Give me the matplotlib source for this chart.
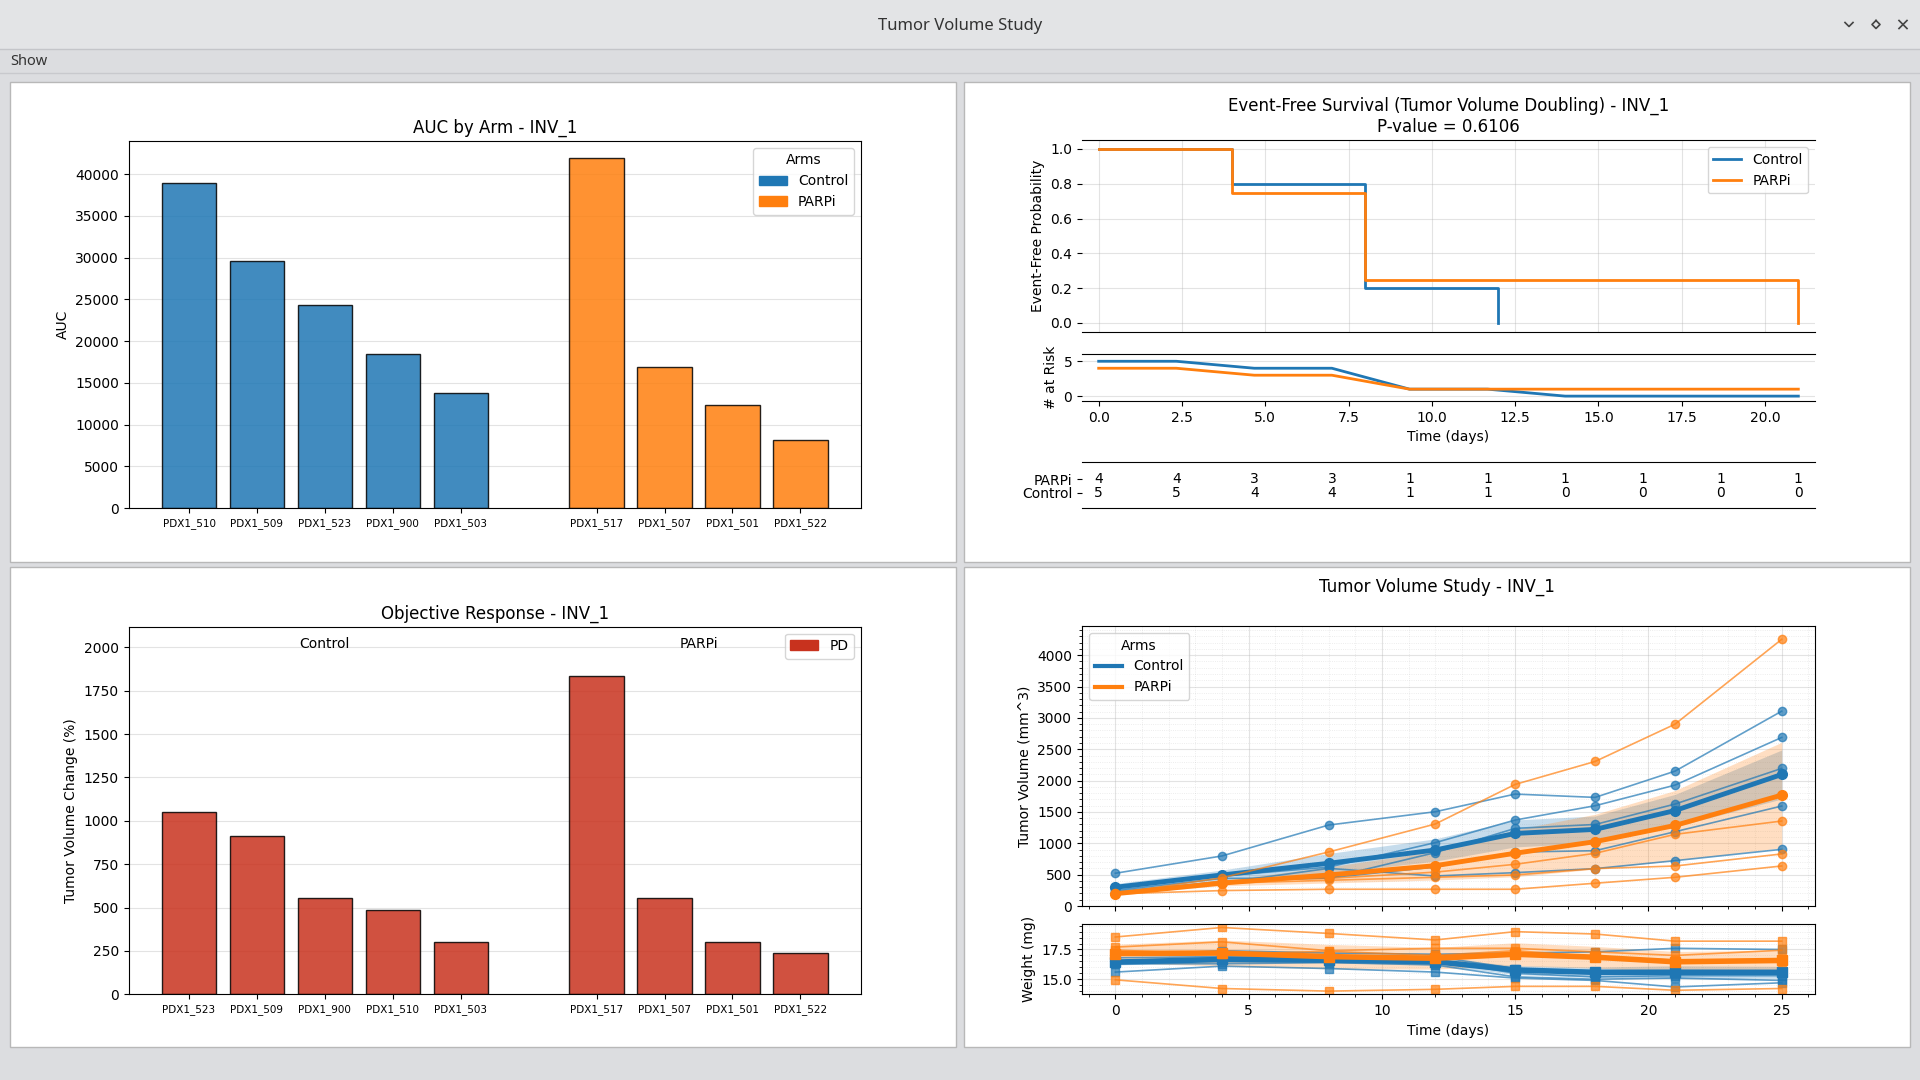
import numpy as np
import matplotlib
matplotlib.use('Agg')
import matplotlib.pyplot as plt
from matplotlib.patches import Rectangle, Patch
from matplotlib.lines import Line2D
from matplotlib.ticker import AutoMinorLocator, MultipleLocator

# ---------------- data ----------------
auc_control_ids = ['PDX1_510', 'PDX1_509', 'PDX1_523', 'PDX1_900', 'PDX1_503']
auc_control = [38950, 29600, 24300, 18450, 13780]
auc_parpi_ids = ['PDX1_517', 'PDX1_507', 'PDX1_501', 'PDX1_522']
auc_parpi = [41900, 16850, 12300, 8200]

orr_control_ids = ['PDX1_523', 'PDX1_509', 'PDX1_900', 'PDX1_510', 'PDX1_503']
orr_control = [1050, 915, 553, 488, 304]
orr_parpi_ids = ['PDX1_517', 'PDX1_507', 'PDX1_501', 'PDX1_522']
orr_parpi = [1835, 558, 304, 238]

km_control_t = [0, 4, 8, 12]
km_control_s = [1.0, 0.8, 0.2, 0.0]
km_parpi_t = [0, 4, 8, 21]
km_parpi_s = [1.0, 0.75, 0.25, 0.0]
risk_times = [0.0, 2.33, 4.67, 7.0, 9.33, 11.67, 14.0, 16.33, 18.67, 21.0]
risk_control = [5, 5, 4, 4, 1, 1, 0, 0, 0, 0]
risk_parpi = [4, 4, 3, 3, 1, 1, 1, 1, 1, 1]
p_value = 0.6106

days = [0, 4, 8, 12, 15, 18, 21, 25]
vol_pdx1_510 = [522, 798, 1291, 1503, 1785, 1732, 2151, 3107]
vol_pdx1_509 = [290, 480, 620, 1010, 1371, 1599, 1928, 2688]
vol_pdx1_523 = [250, 440, 444, 851, 1238, 1300, 1626, 2194]
vol_pdx1_900 = [230, 390, 450, 622, 860, 882, 1185, 1594]
vol_pdx1_503 = [203, 367, 600, 479, 532, 596, 723, 904]
vol_pdx1_517 = [200, 450, 861, 1307, 1939, 2305, 2900, 4253]
vol_pdx1_507 = [195, 400, 440, 540, 665, 840, 1143, 1355]
vol_pdx1_501 = [195, 363, 410, 458, 495, 596, 638, 830]
vol_pdx1_522 = [193, 246, 267, 267, 267, 363, 458, 638]

wt_pdx1_510 = [17.0, 17.4, 17.2, 17.1, 17.2, 17.3, 17.6, 17.5]
wt_pdx1_509 = [16.8, 16.9, 16.9, 16.9, 15.9, 15.5, 15.6, 15.5]
wt_pdx1_523 = [16.5, 16.6, 16.6, 16.6, 15.5, 15.2, 15.3, 15.3]
wt_pdx1_900 = [16.3, 16.3, 16.4, 16.2, 15.2, 15.0, 15.1, 14.9]
wt_pdx1_503 = [15.6, 16.1, 15.9, 15.6, 15.1, 14.9, 14.35, 14.7]
wt_pdx1_517 = [18.55, 19.35, 18.85, 18.3, 19.0, 18.8, 18.2, 18.2]
wt_pdx1_507 = [17.7, 18.14, 17.4, 17.6, 17.6, 17.3, 17.0, 17.44]
wt_pdx1_501 = [17.45, 17.1, 17.35, 17.0, 17.4, 16.9, 16.6, 16.45]
wt_pdx1_522 = [14.95, 14.22, 14.0, 14.15, 14.4, 14.4, 14.07, 14.22]

control_vols = [vol_pdx1_510, vol_pdx1_509, vol_pdx1_523, vol_pdx1_900, vol_pdx1_503]
parpi_vols = [vol_pdx1_517, vol_pdx1_507, vol_pdx1_501, vol_pdx1_522]
control_wts = [wt_pdx1_510, wt_pdx1_509, wt_pdx1_523, wt_pdx1_900, wt_pdx1_503]
parpi_wts = [wt_pdx1_517, wt_pdx1_507, wt_pdx1_501, wt_pdx1_522]

BLUE = '#1f77b4'
ORANGE = '#ff7f0e'
RED = '#c8321e'

# ---------------- figure / window chrome ----------------
W, H = 1920, 1080
fig = plt.figure(figsize=(19.2, 10.8), dpi=100)
fig.patch.set_facecolor('#dcdde0')


def rect(x, y, w, h, fc, ec='none', lw=0):
    fig.add_artist(Rectangle((x / W, 1 - (y + h) / H), w / W, h / H,
                             transform=fig.transFigure, facecolor=fc,
                             edgecolor=ec, linewidth=lw, zorder=0))


def fline(xs, ys, color='#444444', lw=1.2):
    fig.add_artist(Line2D([x / W for x in xs], [1 - y / H for y in ys],
                          transform=fig.transFigure, color=color, lw=lw))


def add_ax(x0, y0, x1, y1):
    return fig.add_axes([x0 / W, 1 - y1 / H, (x1 - x0) / W, (y1 - y0) / H])


rect(0, 0, W, 49, '#e3e4e6')
rect(0, 49, W, 24, '#dcdde0')
fline([0, W], [49, 49], '#c4c5c9', 1)
fline([0, W], [73, 73], '#c8c9cd', 1)
fig.text(960 / W, 1 - 26.5 / H, 'Tumor Volume Study', ha='center', va='center',
         fontsize=12, color='#333333', family=['Noto Sans', 'DejaVu Sans'])
fig.text(10 / W, 1 - 62 / H, 'Show', ha='left', va='center',
         fontsize=10.5, color='#333333', family=['Noto Sans', 'DejaVu Sans'])
# window buttons
fline([1845, 1849, 1853], [22.5, 26.5, 22.5], '#444444', 1.2)
fline([1876, 1880, 1876, 1872, 1876], [20.5, 24.5, 28.5, 24.5, 20.5], '#444444', 1.2)
fline([1899, 1907], [20.5, 28.5], '#444444', 1.2)
fline([1899, 1907], [28.5, 20.5], '#444444', 1.2)

for (px, py) in [(9.5, 82), (963.5, 82), (9.5, 567), (963.5, 567)]:
    rect(px, py, 946.5, 480, 'white', '#b8b8b8', 1)

GRID = dict(color='#b0b0b0', alpha=0.35, lw=0.8)

# ---------------- AUC by arm ----------------
ax = add_ax(128.6, 140.8, 860.8, 508.1)
xc = np.arange(len(auc_control))
xp = np.arange(len(auc_parpi)) + len(auc_control) + 1
ax.bar(xc, auc_control, width=0.8, color=BLUE, alpha=0.85, edgecolor='black')
ax.bar(xp, auc_parpi, width=0.8, color=ORANGE, alpha=0.85, edgecolor='black')
ax.set_xticks(np.concatenate([xc, xp]))
ax.set_xticklabels(auc_control_ids + auc_parpi_ids, fontsize=7.5)
ax.set_ylabel('AUC')
ax.set_title('AUC by Arm - INV_1')
ax.grid(axis='y', **GRID)
ax.set_axisbelow(True)
ax.legend(handles=[Patch(color=BLUE, label='Control'), Patch(color=ORANGE, label='PARPi')],
          title='Arms', loc='upper right')

# ---------------- Objective response ----------------
ax = add_ax(128.6, 626.7, 860.8, 994.3)
xc = np.arange(len(orr_control))
xp = np.arange(len(orr_parpi)) + len(orr_control) + 1
ax.bar(xc, orr_control, width=0.8, color=RED, alpha=0.85, edgecolor='black')
ax.bar(xp, orr_parpi, width=0.8, color=RED, alpha=0.85, edgecolor='black')
ax.set_xticks(np.concatenate([xc, xp]))
ax.set_xticklabels(orr_control_ids + orr_parpi_ids, fontsize=7.5)
ymax = max(orr_control + orr_parpi)
ax.set_ylim(0, ymax * 1.155)
ax.text(np.mean(xc), ymax * 1.1, 'Control', ha='center', va='center')
ax.text(np.mean(xp), ymax * 1.1, 'PARPi', ha='center', va='center')
ax.set_ylabel('Tumor Volume Change (%)')
ax.set_title('Objective Response - INV_1')
ax.grid(axis='y', **GRID)
ax.set_axisbelow(True)
ax.legend(handles=[Patch(color=RED, label='PD')], loc='upper right')

# ---------------- KM ----------------
XL = (-0.5, 21.5)
ax = add_ax(1082, 140.3, 1815, 331.7)
ax.step(km_control_t, km_control_s, where='post', color=BLUE, lw=2, label='Control')
ax.step(km_parpi_t, km_parpi_s, where='post', color=ORANGE, lw=2, label='PARPi')
ax.set_xlim(XL)
ax.set_ylim(-0.05, 1.05)
ax.set_yticks([0, 0.2, 0.4, 0.6, 0.8, 1.0])
ax.set_xticks(np.arange(0, 21, 2.5))
ax.tick_params(axis='x', bottom=False, labelbottom=False)
for s in ('left', 'right'):
    ax.spines[s].set_visible(False)
ax.grid(True, **GRID)
ax.set_ylabel('Event-Free Probability')
ax.set_title('Event-Free Survival (Tumor Volume Doubling) - INV_1\nP-value = %.4f' % p_value)
ax.legend(loc='upper right')

ax = add_ax(1082, 354.3, 1815, 401)
ax.plot(risk_times, risk_control, color=BLUE, lw=2)
ax.plot(risk_times, risk_parpi, color=ORANGE, lw=2)
ax.set_xlim(XL)
ax.set_ylim(-0.7, 6)
ax.set_yticks([0, 5])
ax.set_xticks(np.arange(0, 21, 2.5))
for s in ('left', 'right'):
    ax.spines[s].set_visible(False)
ax.grid(axis='y', **GRID)
ax.set_ylabel('# at Risk')
ax.set_xlabel('Time (days)')

ax = add_ax(1082, 461.7, 1815, 508.3)
ax.set_xlim(XL)
ax.set_ylim(0, 1)
ax.set_xticks([])
ax.set_yticks([0.335, 0.622])
ax.set_yticklabels(['Control', 'PARPi'])
for s in ('left', 'right'):
    ax.spines[s].set_visible(False)
for t, c, p in zip(risk_times, risk_control, risk_parpi):
    ax.text(t, 0.622, str(p), ha='center', va='center')
    ax.text(t, 0.335, str(c), ha='center', va='center')

# ---------------- Tumor volume ----------------
fig.text(1437 / W, 1 - 586.5 / H, 'Tumor Volume Study - INV_1', ha='center', va='center', fontsize=12)
axv = add_ax(1082, 626, 1815, 906)
axw = add_ax(1082, 924.3, 1815, 994.3)


def group(ax, series, color, marker, ind_ms, mean_ms, mean_lw):
    arr = np.array(series, dtype=float)
    for vals in arr:
        ax.plot(days, vals, '-', marker=marker, color=color, lw=1.2, ms=ind_ms, alpha=0.7)
    m = arr.mean(axis=0)
    sem = arr.std(axis=0, ddof=1) / np.sqrt(arr.shape[0])
    ax.fill_between(days, m - sem, m + sem, color=color, alpha=0.25, lw=0)
    ax.plot(days, m, '-', marker=marker, color=color, lw=mean_lw, ms=mean_ms)


group(axv, control_vols, BLUE, 'o', 6, 7, 3.5)
group(axv, parpi_vols, ORANGE, 'o', 6, 7, 3.5)
vmax = max(max(v) for v in control_vols + parpi_vols)
axv.set_ylim(0, vmax * 1.05)
axv.set_ylabel('Tumor Volume (mm^3)')
axv.set_xticks([0, 5, 10, 15, 20, 25])
axv.tick_params(axis='x', labelbottom=False)
axv.legend(handles=[Line2D([], [], color=BLUE, lw=3, label='Control'),
                    Line2D([], [], color=ORANGE, lw=3, label='PARPi')],
           title='Arms', loc='upper left')

group(axw, control_wts, BLUE, 's', 6, 7, 4)
group(axw, parpi_wts, ORANGE, 's', 6, 7, 4)
axw.set_yticks([15.0, 17.5])
axw.set_ylabel('Weight (mg)')
axw.set_xlabel('Time (days)')
axw.set_xticks([0, 5, 10, 15, 20, 25])

for a in (axv, axw):
    a.set_xlim(-1.25, 26.25)
    a.xaxis.set_minor_locator(MultipleLocator(1))
    a.yaxis.set_minor_locator(AutoMinorLocator(5))
    a.grid(True, which='major', **GRID)
    a.grid(True, which='minor', color='#b0b0b0', alpha=0.3, lw=0.6, linestyle=':')
    a.set_axisbelow(True)

fig.savefig('out.png', dpi=100, facecolor=fig.get_facecolor())
